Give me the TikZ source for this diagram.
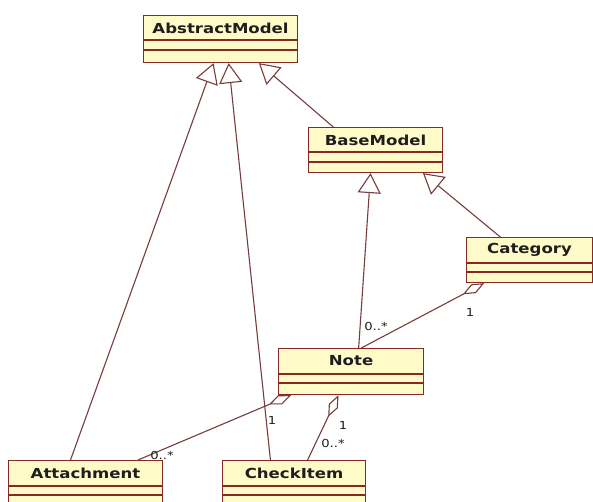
\documentclass[tikz,border=0pt]{standalone}
\usepackage{fontspec}
\setmainfont{DejaVu Sans}
\newfontfamily\clsfont[FakeStretch=1.2]{DejaVu Sans}
\usetikzlibrary{arrows.meta,calc}
\definecolor{clsfill}{RGB}{255,251,200}
\definecolor{clsborder}{RGB}{135,40,35}
\definecolor{conn}{RGB}{120,60,60}
\definecolor{txt}{RGB}{30,30,30}
\tikzset{
  cls/.style={draw=clsborder, fill=clsfill, line width=1.1pt, rectangle, anchor=north west, inner sep=0pt},
  clsdiv/.style={draw=clsborder, line width=1.1pt},
  ctitle/.style={font=\clsfont\bfseries\fontsize{13.8}{14}\selectfont, text=txt, inner sep=0pt},
  gen/.style={draw=conn, line width=1.1pt, -{Triangle[open,length=20pt,width=23pt]}},
  agg/.style={draw=conn, line width=1.1pt, {Diamond[open,length=24pt,width=10pt]}-},
  mult/.style={font=\clsfont\fontsize{11}{12}\selectfont, text=txt, inner sep=0pt}
}
\begin{document}
\begin{tikzpicture}[x=1pt,y=-1pt]
\useasboundingbox (0,0) rectangle (593,501);
\fill[white] (0,0) rectangle (593,501);
\clip (0,0) rectangle (593,501);
% classes
\node[cls, minimum width=154pt, minimum height=47pt] (abs) at (143,15) {};
\node[cls, minimum width=134pt, minimum height=45pt] (base) at (308,127) {};
\node[cls, minimum width=126pt, minimum height=45pt] (cat) at (466,237) {};
\node[cls, minimum width=145pt, minimum height=46pt] (note) at (278,348) {};
\node[cls, minimum width=154pt, minimum height=60pt] (att) at (8,460) {};
\node[cls, minimum width=143pt, minimum height=60pt] (chk) at (222,460) {};
% compartments
\foreach \n/\a/\b in {abs/25/35, base/25/35, cat/26/35, note/26/35, att/26/35, chk/26/35}{
  \draw[clsdiv] ([yshift=-\a pt]\n.north west) -- ([yshift=-\a pt]\n.north east);
  \draw[clsdiv] ([yshift=-\b pt]\n.north west) -- ([yshift=-\b pt]\n.north east);
}
% titles
\node[ctitle] (absT) at ($(abs.north)+(0,13)$) {AbstractModel};
\node[ctitle] (baseT) at ($(base.north)+(0,13)$) {BaseModel};
\node[ctitle] (catT) at ($(cat.north)+(0,13)$) {Category};
\node[ctitle] (noteT) at ($(note.north)+(0,13)$) {Note};
\node[ctitle] (attT) at ($(att.north)+(0,13)$) {Attachment};
\node[ctitle] (chkT) at ($(chk.north)+(0,13)$) {CheckItem};
% generalizations
\draw[gen] ($(att.north west)!0.403!(att.north east)$) -- ($(abs.south west)!0.455!(abs.south east)$);
\draw[gen] ($(chk.north west)!0.336!(chk.north east)$) -- ($(abs.south west)!0.552!(abs.south east)$);
\draw[gen] ($(base.north west)!0.187!(base.north east)$) -- ($(abs.south west)!0.747!(abs.south east)$);
\draw[gen] ($(note.north west)!0.552!(note.north east)$) -- ($(base.south west)!0.463!(base.south east)$);
\draw[gen] ($(cat.north west)!0.27!(cat.north east)$) -- ($(base.south west)!0.851!(base.south east)$);
% aggregations
\draw[agg] ($(cat.south west)!0.143!(cat.south east)$) -- ($(note.north west)!0.57!(note.north east)$);
\draw[agg] ($(note.south west)!0.09!(note.south east)$) -- ($(att.north west)!0.838!(att.north east)$);
\draw[agg] ($(note.south west)!0.414!(note.south east)$) -- ($(chk.north west)!0.594!(chk.north east)$);
% multiplicities
\node[mult] (m1) at (470,312) {1};
\node[mult] (m2) at (376,326) {0..*};
\node[mult] (m3) at (162,455) {0..*};
\node[mult] (m4) at (272,420) {1};
\node[mult] (m5) at (343,425) {1};
\node[mult] (m6) at (333,443) {0..*};
\end{tikzpicture}
\end{document}
